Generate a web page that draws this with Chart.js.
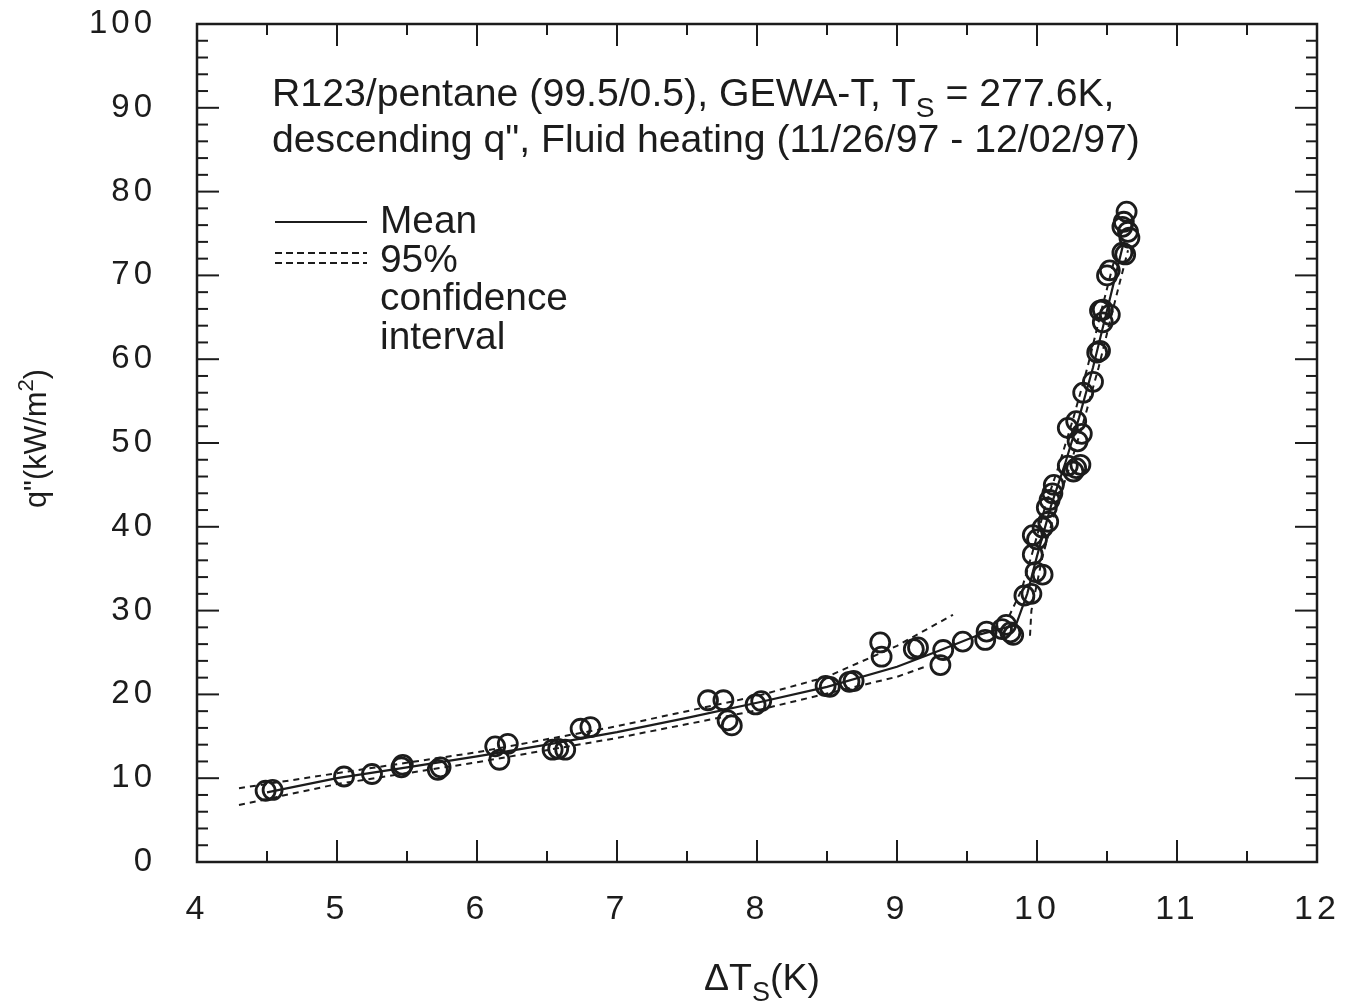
<!DOCTYPE html>
<html><head><meta charset="utf-8">
<script src="https://cdn.jsdelivr.net/npm/chart.js@4/dist/chart.umd.min.js"></script>
<style>html,body{margin:0;padding:0;background:#fff;} canvas{display:block;}</style>
</head><body>
<canvas id="c" width="1351" height="1007"></canvas>
<script>
// ---- data ----
const pointX = [4.49,4.54,5.05,5.25,5.46,5.47,5.72,5.74,6.13,6.16,6.22,6.54,6.58,6.63,6.74,6.81,
  7.65,7.76,7.79,7.82,7.99,8.03,8.49,8.52,8.66,8.69,8.88,8.89,9.12,9.15,9.31,9.33,9.47,9.63,9.64,
  9.75,9.78,9.81,9.83,9.91,9.96,9.99,10.04,9.97,10.00,9.97,10.04,10.08,10.07,10.09,10.11,10.12,
  10.22,10.28,10.31,10.26,10.22,10.29,10.32,10.28,10.33,10.40,10.43,10.45,10.47,10.47,10.45,10.52,
  10.50,10.52,10.61,10.63,10.66,10.65,10.61,10.62,10.64];
const pointY = [8.5,8.6,10.2,10.5,11.3,11.6,11.0,11.3,13.8,12.2,14.1,13.4,13.5,13.4,15.9,16.1,
  19.3,19.3,16.9,16.3,18.8,19.2,21.0,20.9,21.5,21.6,26.2,24.5,25.4,25.6,23.5,25.3,26.3,26.5,27.5,
  27.8,28.3,27.4,27.1,31.8,32.0,34.6,34.3,36.7,38.5,39.0,39.9,40.6,42.3,43.2,44.0,45.0,
  47.3,47.0,47.4,46.6,51.8,50.2,51.1,52.6,56.0,57.3,60.8,61.0,64.4,65.9,65.8,65.3,
  70.0,70.6,72.7,72.5,74.5,75.2,75.8,76.4,77.6];

const meanX = [4.5,5.0,5.5,6.0,6.5,7.0,7.5,8.0,8.5,9.0,9.3,9.6,9.85,9.93,10.0,10.1,10.2,10.3,10.4,10.5,10.62];
const meanY = [8.3,10.0,11.3,12.6,14.0,15.5,17.2,19.0,20.9,23.3,25.2,27.2,28.3,32.0,36.5,42.5,47.5,53.0,59.0,65.8,74.0];

const upperLowX = [4.3,5.0,6.0,7.0,8.0,8.5,9.0,9.4];
const upperLowY = [8.8,10.6,13.1,16.2,19.8,22.1,25.8,29.5];
const lowerLowX = [4.3,5.0,6.0,7.0,8.0,8.5,9.0,9.2];
const lowerLowY = [6.8,9.3,11.9,14.8,18.1,20.1,22.1,23.3];

const upperHighX = [9.80,9.89,9.96,10.06,10.16,10.26,10.36,10.46,10.57];
const upperHighY = [29.3,32.5,36.5,42.5,47.5,53.0,59.0,65.8,73.0];
const lowerHighX = [9.95,9.96,10.04,10.14,10.24,10.34,10.44,10.54,10.65];
const lowerHighY = [27.0,30.0,36.5,42.5,47.5,53.0,59.0,65.8,73.0];

const xTickValues = [4,5,6,7,8,9,10,11,12];
const yTickValues = [0,10,20,30,40,50,60,70,80,90,100];

const FONT = '"Liberation Sans", Arial, Helvetica, sans-serif';
const INK = '#1c1c1c';

function pts(xs, ys) { return xs.map((x, i) => ({x: x, y: ys[i]})); }
function lineSet(xs, ys, dash, w) {
  return { data: pts(xs, ys), showLine: true, pointRadius: 0, borderColor: INK,
    borderWidth: w || 2, borderDash: dash || [], fill: false, tension: 0 };
}

function drawRuns(ctx, runs, x, y, size) {
  let cx = x;
  runs.forEach(r => {
    let s = size, dy = 0;
    if (r.sub) { s = size * 0.72; dy = size * 0.28; }
    if (r.sup) { s = size * 0.72; dy = -size * 0.42; }
    ctx.font = s + 'px ' + FONT;
    ctx.fillText(r.t, cx, y + dy);
    cx += ctx.measureText(r.t).width;
  });
}
function runsWidth(ctx, runs, size) {
  let w = 0;
  runs.forEach(r => {
    const s = (r.sub || r.sup) ? size * 0.72 : size;
    ctx.font = s + 'px ' + FONT;
    w += ctx.measureText(r.t).width;
  });
  return w;
}
function fitSize(ctx, runs, target) {
  return 40 * target / runsWidth(ctx, runs, 40);
}
function noPad(s) { s.paddingTop = 0; s.paddingBottom = 0; s.paddingLeft = 0; s.paddingRight = 0; }

const decor = {
  id: 'decor',
  beforeDraw(chart) { chart.ctx.letterSpacing = '4px'; },
  beforeDatasetsDraw(chart) { chart.ctx.letterSpacing = '0px'; },
  afterDraw(chart) {
    const ctx = chart.ctx;
    const xs = chart.scales.x, ys = chart.scales.y;
    const L = xs.getPixelForValue(4), R = xs.getPixelForValue(12);
    const B = ys.getPixelForValue(0), T = ys.getPixelForValue(100);
    ctx.save();
    ctx.letterSpacing = '0px';
    ctx.strokeStyle = INK;
    ctx.lineWidth = 2;
    for (let v = 4; v <= 12.001; v += 0.5) {
      const p = xs.getPixelForValue(v);
      const len = Math.abs(v - Math.round(v)) < 1e-6 ? 22 : 11;
      ctx.beginPath(); ctx.moveTo(p, B); ctx.lineTo(p, B - len); ctx.stroke();
      ctx.beginPath(); ctx.moveTo(p, T); ctx.lineTo(p, T + len); ctx.stroke();
    }
    for (let v = 0; v <= 100; v += 2) {
      const p = ys.getPixelForValue(v);
      const len = v % 10 === 0 ? 22 : 11;
      ctx.beginPath(); ctx.moveTo(L, p); ctx.lineTo(L + len, p); ctx.stroke();
      ctx.beginPath(); ctx.moveTo(R, p); ctx.lineTo(R - len, p); ctx.stroke();
    }
    ctx.lineWidth = 2.5;
    ctx.strokeRect(L, T, R - L, B - T);

    ctx.fillStyle = INK;
    ctx.textBaseline = 'alphabetic';
    ctx.textAlign = 'left';
    const line2 = [{t: 'descending q", Fluid heating (11/26/97 - 12/02/97)'}];
    const line1 = [{t: 'R123/pentane (99.5/0.5), GEWA-T, T'}, {t: 'S', sub: true}, {t: ' = 277.6K,'}];
    const fs = fitSize(ctx, line2, 868);
    drawRuns(ctx, line1, 272, 106, fs);
    drawRuns(ctx, line2, 272, 152, fs);

    const lfs = fitSize(ctx, [{t: 'confidence'}], 188);
    ctx.lineWidth = 2;
    ctx.beginPath(); ctx.moveTo(275, 222); ctx.lineTo(367, 222); ctx.stroke();
    ctx.setLineDash([7, 4]);
    ctx.beginPath(); ctx.moveTo(275, 253); ctx.lineTo(367, 253); ctx.stroke();
    ctx.beginPath(); ctx.moveTo(275, 263); ctx.lineTo(367, 263); ctx.stroke();
    ctx.setLineDash([]);
    drawRuns(ctx, [{t: 'Mean'}], 380, 233, lfs);
    drawRuns(ctx, [{t: '95%'}], 380, 272, lfs);
    drawRuns(ctx, [{t: 'confidence'}], 380, 310, lfs);
    drawRuns(ctx, [{t: 'interval'}], 380, 349, lfs);

    const xt = [{t: '\u0394T'}, {t: 'S', sub: true}, {t: '(K)'}];
    const xfs = fitSize(ctx, xt, 116);
    drawRuns(ctx, xt, 704, 990, xfs);

    const yt = [{t: 'q"(kW/m'}, {t: '2', sup: true}, {t: ')'}];
    const yfs = fitSize(ctx, yt, 139);
    ctx.save();
    ctx.translate(46, 508);
    ctx.rotate(-Math.PI / 2);
    drawRuns(ctx, yt, 0, 0, yfs);
    ctx.restore();
    ctx.restore();
  }
};

new Chart(document.getElementById('c'), {
  type: 'scatter',
  data: {
    datasets: [
      { data: pts(pointX, pointY), showLine: false, pointRadius: 9.5, pointHoverRadius: 9.5,
        pointBorderWidth: 2.8, borderColor: INK, backgroundColor: 'rgba(0,0,0,0)' },
      lineSet(meanX, meanY, [], 2.2),
      lineSet(upperLowX, upperLowY, [6, 5]),
      lineSet(lowerLowX, lowerLowY, [6, 5]),
      lineSet(upperHighX, upperHighY, [6, 5]),
      lineSet(lowerHighX, lowerHighY, [6, 5])
    ]
  },
  options: {
    responsive: false,
    devicePixelRatio: 1,
    animation: false,
    layout: { padding: { top: 24, right: 34, left: 0, bottom: 0 } },
    plugins: { legend: { display: false }, tooltip: { enabled: false } },
    scales: {
      x: {
        type: 'linear', min: 4, max: 12,
        afterBuildTicks(s) { s.ticks = xTickValues.map(v => ({value: v})); },
        ticks: { color: INK, font: { family: FONT, size: 34 }, padding: 27, maxRotation: 0 },
        grid: { display: false, drawTicks: false },
        border: { display: false },
        afterFit(s) { s.height = 145; noPad(s); }
      },
      y: {
        type: 'linear', min: 0, max: 100,
        afterBuildTicks(s) { s.ticks = yTickValues.map(v => ({value: v})); },
        ticks: { color: INK, font: { family: FONT, size: 33 }, padding: 41 },
        grid: { display: false, drawTicks: false },
        border: { display: false },
        afterFit(s) { s.width = 197; noPad(s); }
      }
    }
  },
  plugins: [decor]
});
</script>
</body></html>
